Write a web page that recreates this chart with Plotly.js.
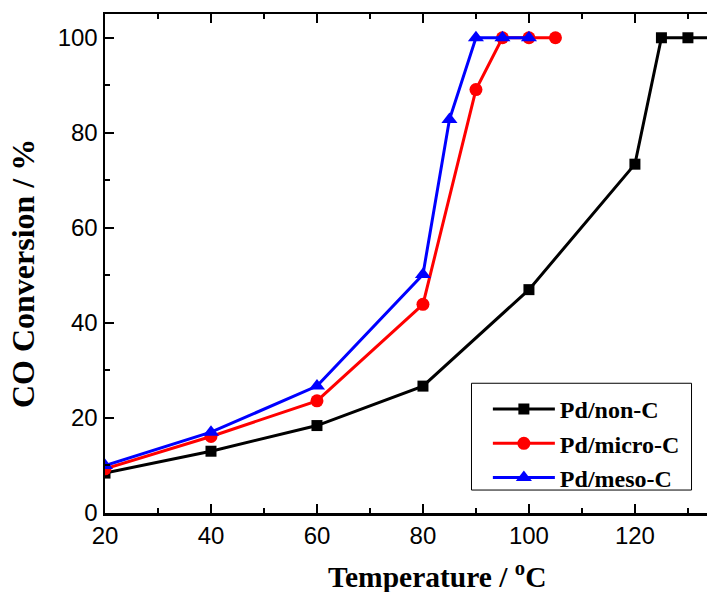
<!DOCTYPE html>
<html>
<head>
<meta charset="utf-8">
<script src="https://cdn.plot.ly/plotly-3.0.1.min.js"></script>
<style>
  html, body { margin: 0; padding: 0; background: #fff; }
  #chart { width: 707px; height: 592px; }
</style>
</head>
<body>
<div id="chart"></div>
<script>
// CO conversion vs. temperature for three Pd catalysts
const tempNonC = [20, 40, 60, 80, 100, 120, 125, 130, 135];
const convNonC = [8.4, 13.0, 18.4, 26.7, 47.0, 73.4, 100, 100, 100];

const tempMicroC = [20, 40, 60, 80, 90, 95, 100, 105];
const convMicroC = [9.3, 16.1, 23.6, 43.9, 89.1, 100, 100, 100];

const tempMesoC = [20, 40, 60, 80, 85, 90, 95, 100];
const convMesoC = [10.0, 17.0, 26.7, 50.2, 82.8, 100, 100, 100];

const seriesNames = ['Pd/non-C', 'Pd/micro-C', 'Pd/meso-C'];
const xTicks = [20, 40, 60, 80, 100, 120];
const yTicks = [0, 20, 40, 60, 80, 100];

const lineW = 3;
const traces = [
  { x: tempNonC, y: convNonC, name: seriesNames[0], mode: 'lines+markers',
    line: { color: '#000000', width: lineW },
    marker: { symbol: 'square', size: 11, color: '#000000' } },
  { x: tempMicroC, y: convMicroC, name: seriesNames[1], mode: 'lines+markers',
    line: { color: '#ff0000', width: lineW },
    marker: { symbol: 'circle', size: 13, color: '#ff0000' } },
  { x: tempMesoC, y: convMesoC, name: seriesNames[2], mode: 'lines+markers',
    line: { color: '#0000ff', width: lineW },
    marker: { symbol: 'triangle-up', size: 14, color: '#0000ff' } }
];

const serif = 'Liberation Serif, Times New Roman, serif';
const tickFont = { family: 'Liberation Sans, Arial, sans-serif', size: 24, color: '#000' };

const layout = {
  width: 707, height: 592,
  margin: { l: 105, r: 0, t: 14, b: 79 },
  paper_bgcolor: '#fff', plot_bgcolor: '#fff',
  showlegend: true,
  legend: {
    x: 0.636, y: 0.2525, xanchor: 'left', yanchor: 'top',
    bgcolor: 'rgba(0,0,0,0)', borderwidth: 0,
    font: { family: serif, size: 24, color: '#000', weight: 'bold' },
    itemwidth: 62, tracegroupgap: 0
  },
  shapes: [
    // legend frame
    { type: 'rect', xref: 'paper', yref: 'paper', x0: 0.6088, x1: 0.9743, y0: 0.046, y1: 0.26,
      line: { color: '#000', width: 1 }, fillcolor: '#fff', layer: 'above' }
  ],
  xaxis: {
    range: [20, 133.6], tickvals: xTicks, ticktext: xTicks.map(String),
    ticks: 'inside', ticklen: 9, tickwidth: 2, tickcolor: '#000',
    minor: { dtick: 10, ticks: 'inside', ticklen: 5, tickwidth: 2, tickcolor: '#000' },
    showline: true, linewidth: 2.5, linecolor: '#000', mirror: 'ticks',
    showgrid: false, zeroline: false, tickfont: tickFont
  },
  yaxis: {
    range: [0, 105], tickvals: yTicks, ticktext: yTicks.map(String),
    ticks: 'inside', ticklen: 9, tickwidth: 2, tickcolor: '#000',
    minor: { dtick: 10, ticks: 'inside', ticklen: 5, tickwidth: 2, tickcolor: '#000' },
    showline: true, linewidth: 2.5, linecolor: '#000', mirror: false,
    showgrid: false, zeroline: false, tickfont: tickFont
  },
  annotations: [
    { text: '<b>Temperature / <sup>o</sup>C</b>', xref: 'paper', yref: 'paper',
      x: 0.5523, y: -0.124, xanchor: 'center', yanchor: 'middle', showarrow: false,
      font: { family: serif, size: 29.5, color: '#000' } },
    { text: '<b>CO Conversion / %</b>', xref: 'paper', yref: 'paper',
      x: -0.136, y: 0.479, xanchor: 'center', yanchor: 'middle', textangle: -90,
      showarrow: false, font: { family: serif, size: 32, color: '#000' } }
  ]
};

Plotly.newPlot('chart', traces, layout, { displayModeBar: false, staticPlot: true });
</script>
</body>
</html>
